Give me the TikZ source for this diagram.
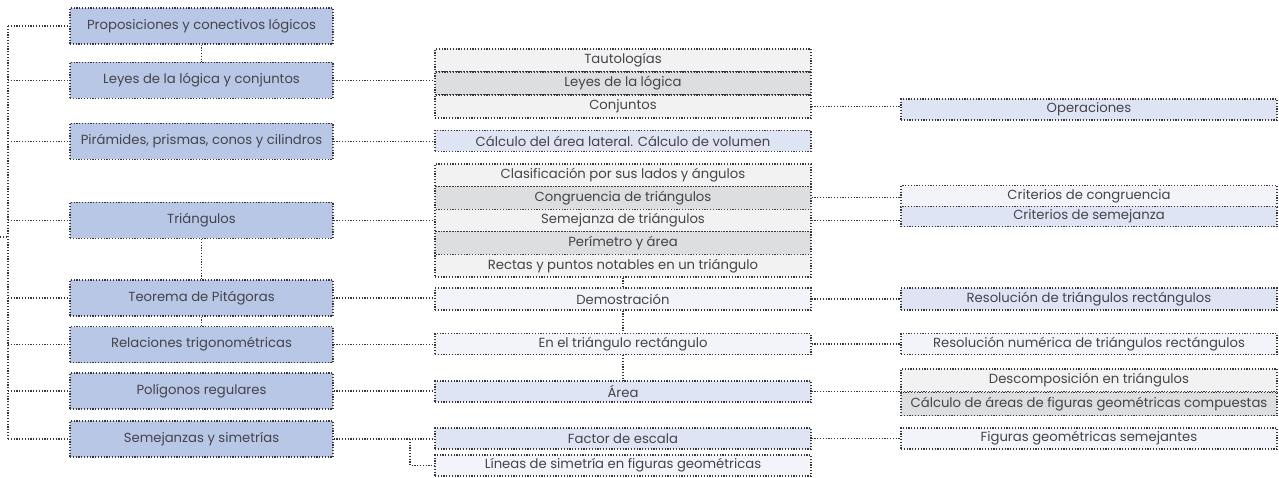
\documentclass[tikz,border=0pt]{standalone}
\usepackage{fontspec}
\setmainfont{Poppins}
\usepackage{xcolor}
\usepackage{tikz}
\usetikzlibrary{calc,positioning}

\definecolor{azulfuerte}{RGB}{184,199,230}
\definecolor{azulclaro}{RGB}{223,228,244}
\definecolor{lila}{RGB}{243,244,250}
\definecolor{grisclaro}{RGB}{242,242,242}
\definecolor{grisoscuro}{RGB}{221,222,223}
\definecolor{borde}{RGB}{55,55,60}
\definecolor{texto}{RGB}{68,68,74}

\tikzset{
  punteado/.style={draw=borde, line width=1.2pt, dash pattern=on 1.2pt off 1.6pt},
  caja/.style={punteado, inner sep=0pt, text=texto, font=\fontsize{13.2}{15}\selectfont},
  tema/.style={caja, fill=azulfuerte, minimum width=263pt, minimum height=36pt},
  sub/.style={caja, minimum width=376pt, minimum height=21pt},
  enlace/.style={punteado},
}

\begin{document}
\begin{tikzpicture}[x=1pt, y=-1pt]

    \useasboundingbox (0,0) rectangle (1279,478);

    % Temas
    \node[tema] (prop)  at (201.5,26)    {Proposiciones y conectivos lógicos};
    \node[tema] (leyes) at (201.5,80.5)  {Leyes de la lógica y conjuntos};
    \node[tema] (pira)  at (201.5,141.5) {Pirámides, prismas, conos y cilindros};
    \node[tema] (tria)  at (201.5,220.5) {Triángulos};
    \node[tema] (pita)  at (201.5,298)   {Teorema de Pitágoras};
    \node[tema] (trig)  at (201.5,344.5) {Relaciones trigonométricas};
    \node[tema] (poli)  at (201.5,391)   {Polígonos regulares};
    \node[tema] (seme)  at (201.5,439)   {Semejanzas y simetrías};

    % Subtemas
    \node[sub, fill=grisclaro, minimum height=23pt]  (tauto)  at (623,60.5)  {Tautologías};
    \node[sub, fill=grisoscuro, minimum height=23pt] (leylog) at (623,83.5)  {Leyes de la lógica};
    \node[sub, fill=grisclaro, minimum height=23pt]  (conj)   at (623,106.5) {Conjuntos};
    \node[sub, fill=azulclaro]                       (calc)   at (623,141)   {Cálculo del área lateral. Cálculo de volumen};
    \node[sub, fill=grisclaro, minimum height=22.6pt]  (clasif) at (623,175.3) {Clasificación por sus lados y ángulos};
    \node[sub, fill=grisoscuro, minimum height=22.6pt] (congr)  at (623,197.9) {Congruencia de triángulos};
    \node[sub, fill=grisclaro, minimum height=22.6pt]  (semtri) at (623,220.5) {Semejanza de triángulos};
    \node[sub, fill=grisoscuro, minimum height=22.6pt] (perim)  at (623,243.1) {Perímetro y área};
    \node[sub, fill=grisclaro, minimum height=22.6pt]  (rectas) at (623,265.7) {Rectas y puntos notables en un triángulo};
    \node[sub, fill=lila, minimum height=22pt] (demo)   at (623,299)   {Demostración};
    \node[sub, fill=lila]                      (entri)  at (623,344)   {En el triángulo rectángulo};
    \node[sub, fill=azulclaro]                 (area)   at (623,391.5) {Área};
    \node[sub, fill=azulclaro]                 (fact)   at (623,438.5) {Factor de escala};
    \node[sub, fill=lila]                      (lineas) at (623,465.5) {Líneas de simetría en figuras geométricas};

    % Detalles
    \node[sub, fill=azulclaro]                   (oper)    at (1089,109.5) {Operaciones};
    \node[sub, fill=lila, minimum height=20.5pt]      (critcon) at (1089,196)   {Criterios de congruencia};
    \node[sub, fill=azulclaro, minimum height=20.5pt] (critsem) at (1089,216.5) {Criterios de semejanza};
    \node[sub, fill=azulclaro, minimum height=22pt]   (resol)   at (1089,299)   {Resolución de triángulos rectángulos};
    \node[sub, fill=lila]                        (resnum)  at (1089,344)   {Resolución numérica de triángulos rectángulos};
    \node[sub, fill=grisclaro, minimum height=23pt]   (desc)    at (1089,380.5) {Descomposición en triángulos};
    \node[sub, fill=grisoscuro, minimum height=23.5pt] (areas)  at (1089,404)   {Cálculo de áreas de figuras geométricas compuestas};
    \node[sub, fill=lila]                        (figs)    at (1089,438.5) {Figuras geométricas semejantes};

    % Tronco
    \coordinate (bus) at (8,0);
    \coordinate (raiz) at (0,237);
    \draw[enlace] (bus |- prop.west) -- (bus |- seme.west);
    \draw[enlace] (raiz) -- (bus |- raiz);
    \foreach \n in {prop,leyes,pira,tria,pita,trig,poli,seme} {
        \draw[enlace] (bus |- \n.west) -- (\n.west);
    }

    % Verticales
    \draw[enlace] (prop.south) -- (leyes.north);
    \draw[enlace] (tria.south) -- (pita.north);
    \draw[enlace] (pita.south) -- (trig.north);
    \draw[enlace] (rectas.south) -- (demo.north);
    \draw[enlace] (demo.south) -- (entri.north);
    \draw[enlace] (entri.south) -- (area.north);

    % Enlaces
    \foreach \a/\b in {leyes/leylog, pira/calc, tria/semtri, pita/demo, trig/entri, poli/area, seme/fact,
                       conj/oper, congr/critcon, semtri/critsem, demo/resol, entri/resnum, area/desc, fact/figs} {
        \draw[enlace] (\a.east) -- (\a.east -| \b.west);
    }
    \coordinate (codo) at (410,0);
    \draw[enlace] (codo |- seme.east) |- (lineas.west);
\end{tikzpicture}
\end{document}
